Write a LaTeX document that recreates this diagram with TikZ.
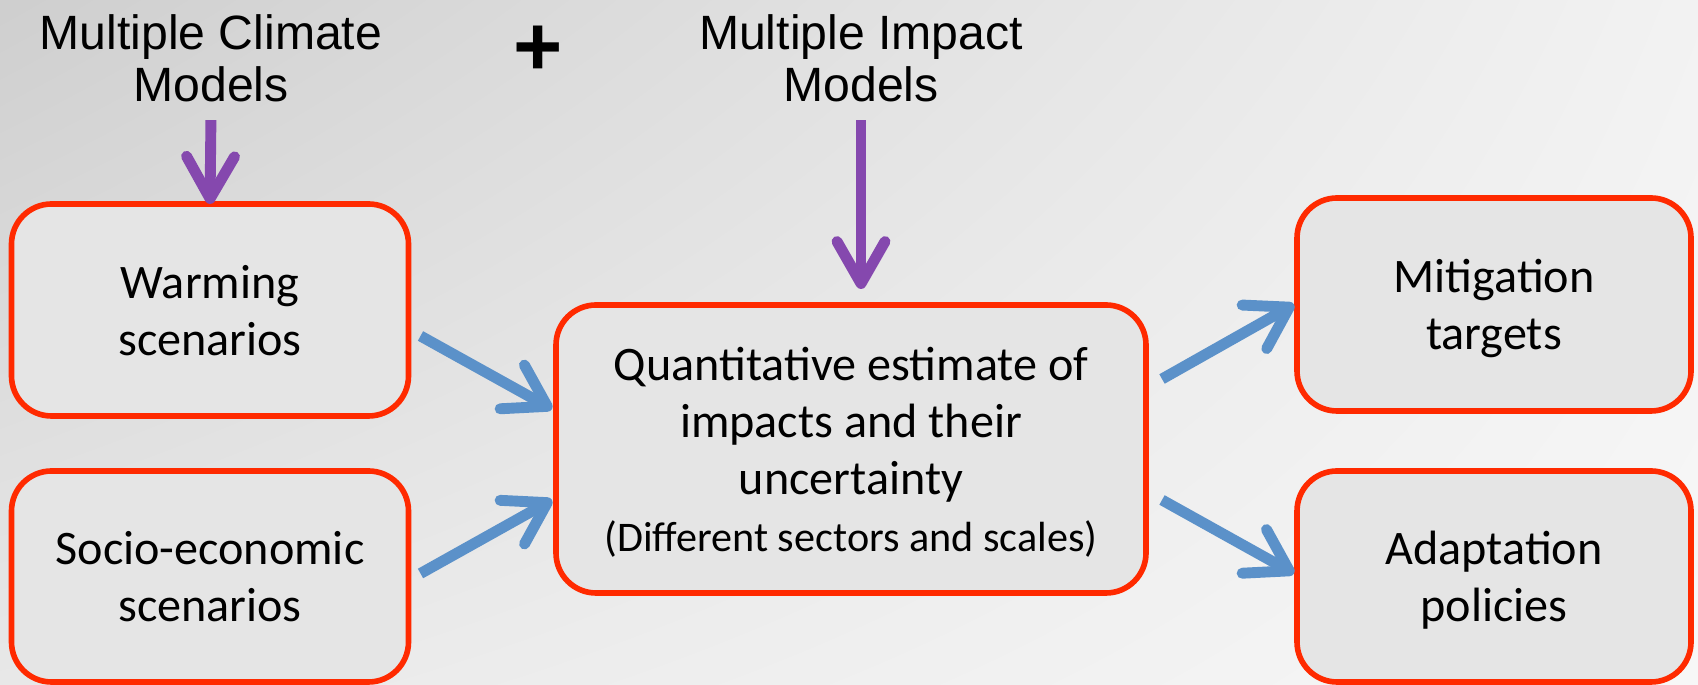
\documentclass[tikz,border=0pt]{standalone}
\usepackage{fontspec}
\setmainfont{Carlito}
\newfontfamily\headfont{Liberation Sans}
\usetikzlibrary{arrows.meta, shadings}

\definecolor{boxred}{RGB}{255,42,0}
\definecolor{boxgray}{RGB}{229,229,229}
\definecolor{arrblue}{RGB}{91,145,201}
\definecolor{arrpurple}{RGB}{133,72,174}

\begin{document}
\begin{tikzpicture}
                    [
                        box/.style = {draw=boxred, fill=boxgray, shape=rectangle, rounded corners=0.4cm, line width=1.6pt, inner sep=0pt, outer sep=0pt, text depth=-4pt, align=center, font=\fontsize{13.7}{16.2}\selectfont},
                        head/.style = {align=center, font=\headfont\fontsize{13.7}{14.8}\selectfont},
                        feed/.style = {draw=arrpurple, line width=3.1pt, -{Straight Barb[length=0.42cm, width=0.48cm, round]}},
                        flow/.style = {draw=arrblue, line width=3.1pt, -{Straight Barb[length=0.40cm, width=0.50cm, round]}},
                    ]

                    % backdrop
                    \useasboundingbox (0,0) rectangle (16.98,6.85);
                    \shade[upper left=black!19, upper right=black!5, lower left=black!9, lower right=black!3] (0,0) rectangle (16.98,6.85);

                    \node[head] (climate) at (2.11,6.27)   {Multiple Climate\\Models};
                    \node[head, font=\headfont\bfseries\fontsize{24}{24}\selectfont] (plus) at (5.38,6.34) {+};
                    \node[head] (impact) at (8.61,6.27)    {Multiple Impact\\Models};

                    \node[box, minimum width=3.97cm, minimum height=2.12cm] (warm) at (2.10,3.75)    {Warming\\scenarios};
                    \node[box, minimum width=3.97cm, minimum height=2.11cm] (socio) at (2.10,1.085)  {Socio-economic\\scenarios};
                    \node[box, minimum width=5.90cm, minimum height=2.88cm] (quant) at (8.51,2.36)   {Quantitative estimate of\\impacts and their\\uncertainty\\{\fontsize{12}{14}\selectfont(Different sectors and scales)}};
                    \node[box, minimum width=3.94cm, minimum height=2.13cm] (mitig) at (14.94,3.805) {Mitigation\\targets};
                    \node[box, minimum width=3.94cm, minimum height=2.11cm] (adapt) at (14.94,1.085) {Adaptation\\policies};

                    \draw [feed, shorten <=0.06cm] (climate.south) -- (warm.north);
                    \draw [feed, shorten <=0.06cm, shorten >=0.16cm] (impact.south) -- (impact.south |- quant.north);

                    \draw [flow] ([shift={(0.12,-0.26)}]warm.east) -- ([shift={(-0.04,0.40)}]quant.west);
                    \draw [flow] ([shift={(0.12,0.03)}]socio.east) -- ([shift={(-0.04,-0.51)}]quant.west);
                    \draw [flow] ([shift={(0.16,0.70)}]quant.east) -- ([shift={(-0.03,0)}]mitig.west);
                    \draw [flow] ([shift={(0.16,-0.51)}]quant.east) -- ([shift={(-0.03,0.03)}]adapt.west);
                \end{tikzpicture}
\end{document}
